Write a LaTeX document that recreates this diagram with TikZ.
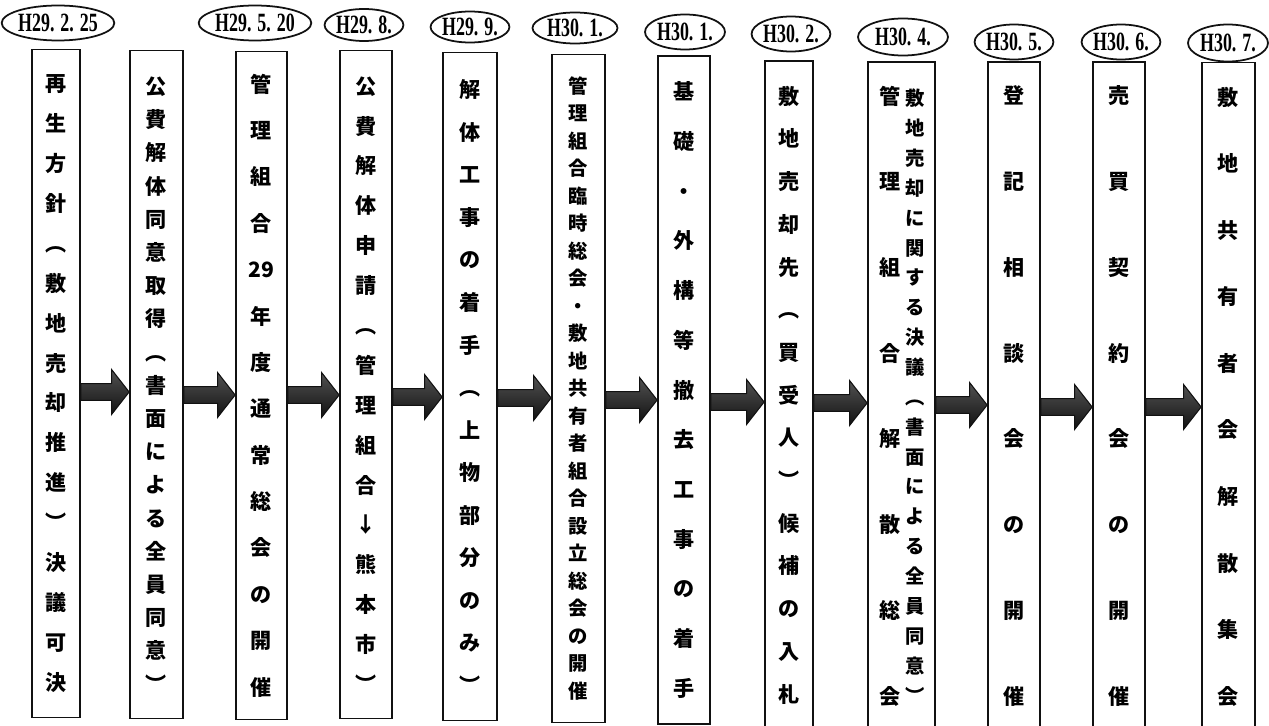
\documentclass[tikz,border=0pt]{standalone}
\usepackage{fontspec}
\usepackage{tikz}
\usetikzlibrary{positioning, calc, shapes.geometric}
\newfontfamily\jp{Noto Sans CJK JP}
\newfontfamily\datefont[FakeStretch=0.68]{Liberation Serif}
\definecolor{ink}{HTML}{111111}
\newcommand{\tate}[2][12]{\jp\bfseries\fontsize{#1}{#2}\selectfont}

\begin{document}
\begin{tikzpicture}[x=0.02cm, y=-0.02cm,
  stage/.style={draw=ink, line width=1pt, fill=white, minimum width=1.04cm, minimum height=13.36cm, inner sep=0pt, align=center},
  date/.style={draw=ink, line width=1pt, ellipse, inner sep=0pt, minimum height=0.7cm, font=\datefont\bfseries\fontsize{15}{15}\selectfont},
  flow/.style={draw=ink, line width=0.6pt, top color=black!68, bottom color=ink,
    to path={let \p1=(\tikztostart), \p2=(\tikztotarget) in
      (\x1,\y1+4.8pt) -- (\x2-10pt,\y1+4.8pt) -- (\x2-10pt,\y1+12.8pt) -- (\x2,\y1)
      -- (\x2-10pt,\y1-12.8pt) -- (\x2-10pt,\y1-4.8pt) -- (\x1,\y1-4.8pt) -- cycle}}]
\useasboundingbox (0,0) rectangle (1269,726);
\node[stage, minimum width=0.96cm, font={\tate{22.7}}] (b1) at (56,383.5) {再\\生\\方\\針\\︵\\敷\\地\\売\\却\\推\\進\\︶\\決\\議\\可\\決};
\node[stage, minimum width=1.06cm, font={\tate{18.9}}] (b2) at (156.5,384.5) {公\\費\\解\\体\\同\\意\\取\\得\\︵\\書\\面\\に\\よ\\る\\全\\員\\同\\意\\︶};
\node[stage, minimum width=1.02cm, font={\tate{26.4}}] (b3) at (261.5,385.5) {管\\理\\組\\合\\29\\年\\度\\通\\常\\総\\会\\の\\開\\催};
\node[stage, font={\tate{22.7}}] (b4) at (366,384.5) {公\\費\\解\\体\\申\\請\\︵\\管\\理\\組\\合\\↓\\熊\\本\\市\\︶};
\node[stage, minimum width=1.08cm, font={\tate{24.2}}] (b5) at (470,386.5) {解\\体\\工\\事\\の\\着\\手\\︵\\上\\物\\部\\分\\の\\み\\︶};
\node[stage, minimum width=1.06cm, font={\tate[11]{15.65}}] (b6) at (578.5,388.5) {管\\理\\組\\合\\臨\\時\\総\\会\\・\\敷\\地\\共\\有\\者\\組\\合\\設\\立\\総\\会\\の\\開\\催};
\node[stage, font={\tate{28.3}}] (b7) at (684,390) {基\\礎\\・\\外\\構\\等\\撤\\去\\工\\事\\の\\着\\手};
\node[stage, minimum width=0.96cm, font={\tate{24.3}}] (b8) at (789,395) {敷\\地\\売\\却\\先\\︵\\買\\受\\人\\︶\\候\\補\\の\\入\\札};
\node[stage, minimum width=1.34cm] (b9) at (901.5,396) {};
\node[align=center, inner sep=0pt, font={\tate[11]{17}}] (t9r) at ($(b9.center)+(13.5,0)$) {敷\\地\\売\\却\\に\\関\\す\\る\\決\\議\\︵\\書\\面\\に\\よ\\る\\全\\員\\同\\意\\︶};
\node[align=center, inner sep=0pt, font={\tate{48.8}}] (t9l) at ($(b9.center)+(-11.5,0)$) {管\\理\\組\\合\\解\\散\\総\\会};
\node[stage, font={\tate{48.8}}] (b10) at (1014,396) {登\\記\\相\\談\\会\\の\\開\\催};
\node[stage, font={\tate{48.8}}] (b11) at (1119,396) {売\\買\\契\\約\\会\\の\\開\\催};
\node[stage, minimum width=1.06cm, font={\tate{37.9}}] (b12) at (1228.5,396.5) {敷\\地\\共\\有\\者\\会\\解\\散\\集\\会};

\node[date, minimum width=2.14cm] (d1) at (58,23) {H29. 2. 25};
\node[date, minimum width=2.0cm] (d3) at (255,23) {H29. 5. 20};
\node[date, minimum width=1.56cm, minimum height=0.64cm] (d4) at (364,25) {H29. 8.};
\node[date, minimum width=1.5cm, minimum height=0.62cm] (d5) at (470,27) {H29. 9.};
\node[date, minimum width=1.7cm, minimum height=0.62cm] (d6) at (575,28) {H30. 1.};
\node[date, minimum width=1.6cm] (d7) at (685,32) {H30. 1.};
\node[date, minimum width=1.56cm] (d8) at (791,34) {H30. 2.};
\node[date, minimum width=1.8cm, minimum height=0.74cm] (d9) at (903,37) {H30. 4.};
\node[date, minimum width=1.56cm] (d10) at (1014,42) {H30. 5.};
\node[date, minimum width=1.56cm] (d11) at (1121,42) {H30. 6.};
\node[date, minimum width=1.6cm, minimum height=0.74cm] (d12) at (1228,43) {H30. 7.};

\draw[flow] ($(b1.east)+(0,8.5)$) to (b2.west);
\draw[flow] ($(b2.east)+(0,10.5)$) to (b3.west);
\draw[flow] ($(b3.east)+(0,9.5)$) to (b4.west);
\draw[flow] ($(b4.east)+(0,12.5)$) to (b5.west);
\draw[flow] ($(b5.east)+(0,11.5)$) to (b6.west);
\draw[flow] ($(b6.east)+(0,11.5)$) to (b7.west);
\draw[flow] ($(b7.east)+(0,12)$) to (b8.west);
\draw[flow] ($(b8.east)+(0,8)$) to (b9.west);
\draw[flow] ($(b9.east)+(0,9)$) to (b10.west);
\draw[flow] ($(b10.east)+(0,11)$) to (b11.west);
\draw[flow] ($(b11.east)+(0,11)$) to (b12.west);
\end{tikzpicture}
\end{document}
